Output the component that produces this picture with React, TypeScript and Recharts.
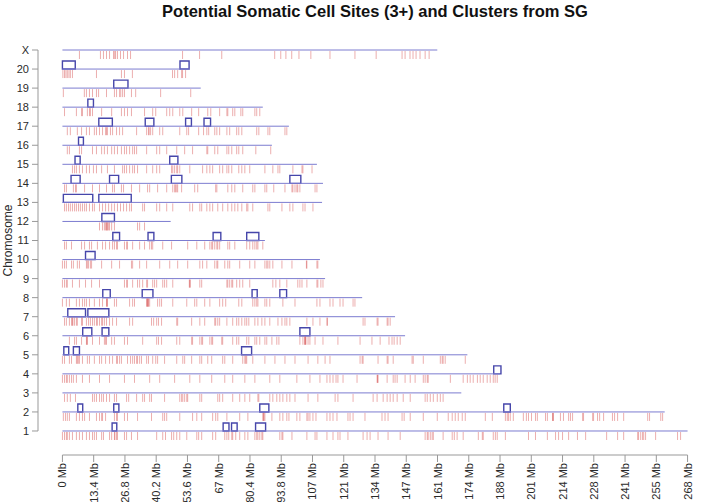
import React from 'react';
import {
  ScatterChart,
  Scatter,
  XAxis,
  YAxis,
  ReferenceLine,
  ReferenceArea,
} from 'recharts';

// chromosome rows, bottom (1) to top (X)
const chromNames = ['1', '2', '3', '4', '5', '6', '7', '8', '9', '10', '11', '12', '13', '14', '15', '16', '17', '18', '19', '20', 'X'];
const chromLengths = [268, 258.2, 171, 187.5, 173.6, 146.9, 142.6, 128.5, 112.6, 110.4, 86.8, 46.4, 111.3, 111.7, 109.1, 89.8, 97.1, 85.9, 59.3, 54.6, 160.7];

// x axis ticks (Mb)
const xTicks = [0, 13.4, 26.8, 40.2, 53.6, 67, 80.4, 93.8, 107.2, 120.6, 134, 147.4, 160.8, 174.2, 187.6, 201, 214.4, 227.8, 241.2, 254.6, 268];
const xTickLabels = ['0 Mb', '13.4 Mb', '26.8 Mb', '40.2 Mb', '53.6 Mb', '67 Mb', '80.4 Mb', '93.8 Mb', '107 Mb', '121 Mb', '134 Mb', '147 Mb', '161 Mb', '174 Mb', '188 Mb', '201 Mb', '214 Mb', '228 Mb', '241 Mb', '255 Mb', '268 Mb'];

// site positions (Mb) per chromosome
const sites1 = [0, 0.9, 1.7, 2.1, 3.0, 4.3, 6.0, 7.3, 8.6, 10.3, 11.6, 12.9, 13.7, 14.6, 16.8, 17.6, 20.2, 21.1, 22.3, 22.5, 23.2, 23.6, 26.6, 27.5, 29.6, 32.2, 40.4, 43.0, 44.2, 46.8, 47.7, 49.0, 50.3, 53.3, 57.6, 58.4, 59.7, 64.4, 65.7, 69.6, 70.5, 71.3, 72.6, 73.0, 74.3, 76.0, 78.2, 79.5, 82.5, 83.3, 83.8, 84.6, 85.5, 85.9, 93.2, 94.1, 94.5, 98.4, 104.8, 108.3, 109.1, 113.4, 116.0, 118.1, 119.0, 122.4, 128.9, 130.6, 131.9, 135.3, 139.6, 144.8, 155.5, 156.4, 156.8, 157.7, 158.5, 159.0, 163.2, 167.1, 168.0, 169.2, 171.8, 178.3, 180.0, 180.4, 184.7, 185.6, 186.4, 189.9, 199.8, 202.8, 207.9, 211.4, 212.7, 214.4, 217.0, 220.8, 224.3, 233.3, 238.0, 240.6, 246.6, 247.0, 247.9, 248.7, 249.2, 250.0, 254.3, 263.7, 265.0];
const sites2 = [0.4, 1.3, 2.1, 3.0, 6.0, 7.3, 8.6, 9.5, 11.6, 14.6, 15.9, 16.8, 17.2, 18.5, 22.3, 23.2, 23.6, 26.6, 27.9, 32.2, 38.2, 43.0, 43.8, 44.7, 50.3, 55.8, 57.6, 59.7, 64.4, 65.7, 66.6, 70.5, 76.0, 79.5, 85.9, 86.2, 86.4, 86.8, 89.8, 93.2, 94.5, 96.2, 97.1, 100.5, 101.8, 104.8, 105.3, 106.1, 107.4, 108.7, 113.4, 114.7, 116.0, 117.7, 122.4, 123.3, 124.6, 129.7, 137.0, 138.3, 139.6, 145.6, 146.5, 149.1, 154.7, 160.7, 165.4, 167.1, 168.4, 169.7, 171.4, 172.7, 181.3, 184.3, 189.9, 190.7, 191.2, 192.0, 193.3, 197.6, 198.9, 199.8, 201.1, 202.8, 203.6, 207.1, 207.9, 210.1, 210.3, 210.5, 213.5, 214.8, 217.0, 217.8, 218.7, 223.0, 223.4, 227.3, 227.7, 229.4, 230.3, 232.0, 235.8, 236.7, 238.0, 240.6, 250.9, 251.7, 256.5, 257.3];
const sites3 = [0.9, 2.1, 3.4, 5.6, 12.9, 13.7, 14.6, 15.9, 16.8, 17.6, 18.9, 20.2, 22.3, 23.2, 27.5, 28.4, 31.8, 34.4, 35.2, 37.4, 38.2, 43.8, 50.3, 51.1, 51.6, 52.4, 53.3, 53.7, 58.9, 59.7, 66.6, 67.4, 68.7, 73.0, 76.0, 78.2, 80.3, 83.8, 84.2, 88.9, 90.2, 91.9, 93.2, 94.5, 96.2, 97.5, 99.7, 105.3, 109.5, 116.9, 118.1, 124.6, 133.2, 134.9, 137.5, 139.2, 140.5, 141.8, 143.5, 146.1, 149.1, 155.5, 156.4, 157.7, 159.0, 160.7, 162.0, 163.2];
const sites4 = [0, 0.9, 1.7, 2.1, 3.0, 3.9, 4.7, 6.0, 8.6, 11.6, 15.9, 20.2, 26.6, 30.9, 37.4, 41.7, 48.1, 54.6, 58.9, 64.0, 69.6, 73.0, 78.2, 82.5, 88.9, 93.2, 100.5, 106.1, 110.4, 113.4, 114.7, 116.0, 117.3, 118.1, 120.3, 126.3, 134.9, 135.1, 135.3, 139.2, 141.8, 142.6, 143.5, 146.9, 149.1, 151.2, 154.7, 155.5, 156.4, 156.8, 166.3, 171.8, 173.6, 174.8, 176.1, 177.9, 179.1, 180.4, 182.1, 183.4, 184.7, 185.5, 186.4];
const sites5 = [0, 0.9, 3.0, 3.9, 6.0, 6.4, 6.8, 7.3, 8.6, 10.7, 11.6, 13.7, 15.9, 16.8, 18.5, 20.2, 21.5, 23.2, 23.6, 24.5, 25.3, 27.9, 29.2, 30.1, 30.9, 31.8, 32.2, 33.1, 33.9, 36.1, 36.9, 38.7, 40.0, 40.8, 43.8, 49.0, 51.6, 52.4, 55.4, 58.9, 59.7, 62.3, 64.0, 68.7, 69.6, 73.0, 77.3, 78.2, 78.6, 79.0, 81.6, 86.8, 91.1, 95.4, 99.7, 105.3, 109.5, 112.6, 114.7, 127.6, 128.5, 128.9, 135.3, 139.2, 139.6, 141.8, 149.9, 150.4, 154.7, 162.0, 162.8, 163.2, 164.1, 172.7];
const sites6 = [3.0, 5.2, 6.0, 8.2, 10.3, 10.5, 10.7, 12.9, 15.9, 18.0, 18.5, 18.9, 21.1, 22.3, 26.6, 27.9, 34.4, 40.4, 41.2, 42.5, 49.0, 50.3, 55.4, 55.8, 58.9, 59.7, 60.1, 63.2, 64.0, 64.4, 68.3, 68.7, 73.0, 74.7, 75.6, 79.0, 79.9, 82.5, 83.3, 84.6, 86.8, 87.6, 89.8, 91.9, 92.8, 101.8, 103.1, 103.8, 104.0, 104.2, 104.4, 105.3, 106.1, 108.3, 111.7, 118.1, 127.6, 132.7, 136.2, 140.0, 141.3, 142.2, 143.5, 144.8];
const sites7 = [0.9, 1.7, 3.0, 3.9, 4.3, 4.5, 5.2, 6.0, 6.4, 8.2, 8.6, 10.3, 11.2, 12.0, 12.9, 13.7, 14.6, 15.0, 15.9, 16.8, 17.2, 18.0, 18.9, 20.2, 21.5, 23.2, 28.8, 30.1, 38.2, 39.1, 40.4, 41.2, 42.5, 49.0, 49.4, 55.4, 58.9, 61.0, 65.3, 65.7, 66.6, 67.4, 70.5, 73.0, 74.7, 75.6, 76.9, 78.2, 79.0, 79.9, 82.5, 83.8, 85.5, 86.8, 88.9, 92.4, 94.1, 95.4, 96.2, 97.5, 104.8, 107.4, 110.4, 113.4, 113.6, 128.9, 129.7, 134.9, 135.3, 139.2, 139.6, 140.5];
const sites8 = [0, 1.7, 3.0, 6.0, 7.3, 8.6, 9.5, 10.3, 11.6, 13.7, 15.9, 17.2, 18.9, 19.1, 19.3, 22.3, 23.2, 28.8, 30.1, 30.9, 36.1, 36.3, 36.5, 36.7, 36.9, 37.4, 40.8, 41.7, 42.5, 47.3, 53.3, 56.7, 57.6, 61.0, 63.2, 67.4, 68.7, 70.0, 75.6, 76.9, 81.6, 82.5, 83.3, 83.8, 86.8, 87.6, 88.9, 94.5, 99.7, 109.1, 110.4, 114.7, 116.0, 119.0, 120.3, 124.6, 125.4];
const sites9 = [0, 0.9, 1.7, 2.1, 4.3, 7.3, 9.9, 12.5, 15.9, 26.6, 27.5, 27.9, 30.1, 32.2, 33.1, 34.4, 36.1, 36.5, 38.7, 39.5, 40.4, 43.0, 43.8, 44.7, 47.3, 54.4, 54.6, 54.8, 58.9, 59.7, 70.5, 70.9, 71.7, 72.6, 73.0, 74.7, 76.0, 77.3, 80.3, 90.2, 91.5, 93.2, 96.2, 100.9, 101.8, 102.7, 104.8, 109.1, 109.5, 110.8, 111.7];
const sites10 = [0, 0.9, 1.7, 3.9, 4.7, 6.4, 7.3, 10.3, 10.7, 11.2, 12.0, 12.5, 16.8, 21.1, 24.5, 29.6, 30.1, 33.1, 36.1, 41.7, 46.0, 49.4, 53.7, 58.9, 60.1, 61.9, 65.3, 66.2, 66.6, 69.6, 70.9, 71.7, 76.0, 80.3, 82.5, 86.8, 87.6, 88.1, 88.9, 90.2, 94.1, 98.4, 104.6, 104.8, 109.1, 109.5];
const sites11 = [0.9, 1.7, 3.9, 8.2, 9.5, 11.6, 12.5, 15.0, 17.2, 18.5, 20.2, 21.5, 22.3, 23.2, 23.6, 26.6, 27.5, 27.9, 30.1, 33.1, 35.2, 37.4, 38.2, 38.7, 43.0, 46.8, 53.7, 57.6, 61.0, 63.2, 64.0, 64.4, 65.3, 66.2, 66.6, 67.4, 70.9, 71.7, 73.9, 79.0, 80.3, 81.6, 82.5, 83.3, 83.8, 85.9];
const sites12 = [15.9, 17.2, 18.0, 18.5, 18.9, 19.1, 19.3, 19.8, 20.2, 21.1, 22.3, 32.2, 33.1, 35.2];
const sites13 = [0.9, 1.7, 2.6, 3.4, 4.3, 5.2, 6.0, 6.9, 7.7, 8.6, 9.5, 10.3, 11.6, 12.9, 13.7, 15.9, 17.2, 18.5, 19.8, 21.1, 22.3, 23.6, 24.9, 26.2, 27.5, 28.8, 29.6, 34.4, 35.2, 40.4, 41.7, 44.7, 47.3, 54.6, 55.8, 58.9, 59.7, 61.9, 63.2, 64.4, 66.6, 68.7, 70.9, 72.6, 73.9, 75.2, 76.9, 79.0, 79.5, 81.6, 88.1, 88.9, 94.1, 97.5, 98.8, 103.1, 104.0, 107.4];
const sites14 = [0.9, 1.7, 4.7, 5.6, 6.0, 9.5, 12.9, 15.9, 18.9, 21.5, 22.3, 25.3, 26.2, 29.6, 33.1, 36.5, 37.4, 40.8, 44.7, 47.3, 48.1, 48.5, 49.0, 49.4, 51.1, 56.7, 58.0, 65.7, 66.2, 70.9, 72.6, 73.9, 77.3, 81.6, 82.5, 86.8, 87.6, 90.6, 95.4, 98.4, 98.8, 99.7, 100.5, 100.9, 101.8, 108.3, 109.1];
const sites15 = [4.3, 5.2, 6.0, 7.3, 8.6, 10.3, 11.6, 13.3, 14.6, 16.8, 19.3, 22.3, 25.8, 26.6, 27.5, 28.8, 30.1, 30.9, 32.2, 36.1, 38.7, 40.4, 41.7, 46.8, 47.3, 48.1, 49.0, 49.4, 50.3, 54.6, 60.1, 61.9, 63.2, 64.4, 67.4, 68.7, 70.5, 71.3, 72.6, 75.6, 76.9, 78.2, 80.3, 86.8, 90.2, 92.4, 93.2, 98.8, 102.7, 103.1, 107.0];
const sites16 = [2.1, 3.0, 7.3, 8.2, 12.9, 14.6, 16.8, 18.0, 19.3, 21.1, 22.3, 23.6, 25.3, 26.6, 27.5, 28.8, 30.1, 30.9, 31.8, 36.1, 40.4, 41.7, 44.7, 49.0, 52.4, 55.8, 61.9, 62.3, 65.3, 66.6, 70.5, 71.3, 72.6, 74.7, 75.6, 77.3, 82.9, 89.3];
const sites17 = [2.1, 3.4, 6.4, 8.2, 10.3, 11.6, 13.7, 14.6, 15.9, 17.2, 18.5, 18.9, 19.3, 20.6, 21.5, 23.2, 24.5, 25.8, 31.8, 36.1, 36.9, 37.2, 37.8, 38.7, 41.7, 43.0, 50.3, 53.3, 54.1, 58.4, 60.5, 61.9, 62.7, 65.3, 66.2, 67.4, 70.5, 71.7, 74.7, 75.6, 76.9, 83.3, 84.2, 88.1, 88.9, 95.4, 96.2];
const sites18 = [0.9, 6.0, 8.2, 8.6, 10.7, 11.6, 12.0, 12.9, 16.8, 21.1, 25.3, 26.6, 27.9, 29.6, 35.2, 38.7, 40.0, 44.7, 46.0, 47.3, 50.3, 51.6, 55.4, 58.4, 62.3, 63.6, 67.4, 70.5, 70.9, 73.0, 73.9, 76.5, 77.3, 82.5, 83.3, 84.6];
const sites19 = [0.4, 9.4, 10.3, 11.6, 12.9, 14.6, 15.5, 18.9, 22.3, 23.2, 24.5, 25.0, 25.8, 26.6, 29.6, 31.4, 42.1, 55.0];
const sites20 = [0.2, 0.9, 1.5, 2.1, 2.8, 3.4, 4.3, 14.6, 25.3, 26.6, 30.0, 47.2, 48.1, 49.4, 51.1, 51.5, 52.8];
const sitesX = [7.3, 16.3, 17.6, 18.9, 20.2, 21.9, 22.4, 22.8, 23.6, 24.9, 26.2, 27.9, 29.2, 51.5, 58.8, 68.3, 91.0, 93.6, 95.8, 98.3, 101.4, 106.5, 114.7, 125.4, 134.5, 145.6, 146.9, 149.0, 150.3, 151.6, 153.3, 155.5, 157.2];

// cluster ranges [start, end] (Mb) per chromosome
const clusters1 = [[21.3, 23.3], [68.9, 71.4], [72.5, 74.9], [82.8, 87.1]];
const clusters2 = [[6.6, 8.7], [22.0, 24.2], [84.6, 88.5], [189.2, 192.0]];
const clusters3: number[][] = [];
const clusters4 = [[184.9, 188.0]];
const clusters5 = [[0.6, 2.7], [4.7, 7.3], [76.8, 81.1]];
const clusters6 = [[8.7, 12.6], [17.0, 19.9], [101.8, 106.1]];
const clusters7 = [[2.3, 9.9], [10.9, 19.9]];
const clusters8 = [[17.3, 20.5], [34.2, 38.8], [81.3, 83.5], [93.2, 96.1]];
const clusters9: number[][] = [];
const clusters10 = [[9.9, 14.0]];
const clusters11 = [[21.6, 24.5], [36.7, 39.2], [64.6, 67.9], [79.0, 84.2]];
const clusters12 = [[16.9, 22.3]];
const clusters13 = [[0.4, 13.0], [15.6, 29.5]];
const clusters14 = [[3.7, 7.6], [20.2, 24.1], [46.7, 51.2], [97.5, 102.2]];
const clusters15 = [[5.4, 7.6], [46.0, 49.5]];
const clusters16 = [[6.9, 9.0]];
const clusters17 = [[15.6, 21.4], [35.5, 39.2], [52.8, 55.3], [60.7, 63.5]];
const clusters18 = [[10.9, 13.3]];
const clusters19 = [[22.0, 28.1]];
const clusters20 = [[0, 5.5], [50.4, 54.3]];
const clustersX: number[][] = [];

const chromSites = [sites1, sites2, sites3, sites4, sites5, sites6, sites7, sites8, sites9, sites10, sites11, sites12, sites13, sites14, sites15, sites16, sites17, sites18, sites19, sites20, sitesX];
const chromClusters = [clusters1, clusters2, clusters3, clusters4, clusters5, clusters6, clusters7, clusters8, clusters9, clusters10, clusters11, clusters12, clusters13, clusters14, clusters15, clusters16, clusters17, clusters18, clusters19, clusters20, clustersX];

const siteData = chromSites.flatMap((list, i) => list.map((x) => ({ x, y: i + 1 })));

const FONT = '"Liberation Sans", Arial, Helvetica, sans-serif';
const X_MIN = -10.47;
const X_MAX = 278.47;
const Y_MIN = -0.26;
const Y_MAX = 22.26;
const BOX_H = 0.42;

const SiteTick = (props: any) => {
  const { cx, cy } = props;
  return (
    <line x1={cx} x2={cx} y1={cy + 1} y2={cy + 9} stroke="#cc2a2a" strokeOpacity={0.38} strokeWidth={1} />
  );
};

const XTick = (props: any) => {
  const { x, y, index } = props;
  return (
    <text
      x={x}
      y={y}
      transform={`rotate(-90 ${x} ${y})`}
      textAnchor="end"
      dominantBaseline="central"
      fontSize={11}
      fontFamily={FONT}
      fill="#2a2a2a"
    >
      {xTickLabels[index]}
    </text>
  );
};

const App: React.FC = () => {
  return (
    <div style={{ position: 'absolute', left: 0, top: 0, width: 716, height: 502, background: '#fff', fontFamily: FONT }}>
      <div
        style={{
          position: 'absolute',
          top: 2,
          left: 38,
          width: 674,
          textAlign: 'center',
          fontWeight: 'bold',
          fontSize: 16.5,
          color: '#111',
        }}
      >
        Potential Somatic Cell Sites (3+) and Clusters from SG
      </div>
      <ScatterChart width={716} height={502} margin={{ top: 26, right: 4, left: 0, bottom: 0 }}>
        <XAxis
          type="number"
          dataKey="x"
          domain={[X_MIN, X_MAX]}
          ticks={xTicks}
          interval={0}
          axisLine={false}
          tickLine={{ stroke: '#999' }}
          tickSize={7}
          tickMargin={1}
          height={47}
          tick={<XTick />}
          allowDataOverflow
        />
        <YAxis
          type="number"
          dataKey="y"
          domain={[Y_MIN, Y_MAX]}
          ticks={chromNames.map((_, i) => i + 1)}
          interval={0}
          axisLine={false}
          tickLine={{ stroke: '#999' }}
          tickSize={6}
          tickMargin={3}
          width={38}
          tickFormatter={(v: number) => chromNames[v - 1]}
          tick={{ fontSize: 11, fill: '#2a2a2a', fontFamily: FONT }}
          allowDataOverflow
          label={{
            content: (p: any) => {
              const vb = p.viewBox || { x: 0, y: 26, width: 38, height: 429 };
              const cy = vb.y + vb.height / 2;
              return (
                <text
                  x={8}
                  y={cy}
                  transform={`rotate(-90 8 ${cy})`}
                  textAnchor="middle"
                  dominantBaseline="central"
                  fontSize={12}
                  fontFamily={FONT}
                  fill="#2a2a2a"
                >
                  Chromosome
                </text>
              );
            },
          }}
        />
        {/* axis lines drawn only across the tick range, like base R */}
        <ReferenceLine
          segment={[{ x: X_MIN, y: 1 }, { x: X_MIN, y: chromNames.length }]}
          stroke="#999"
          ifOverflow="visible"
        />
        <ReferenceLine
          segment={[{ x: xTicks[0], y: Y_MIN }, { x: xTicks[xTicks.length - 1], y: Y_MIN }]}
          stroke="#999"
          ifOverflow="visible"
        />
        {chromLengths.map((len, i) => (
          <ReferenceLine
            key={`chr-${i}`}
            segment={[{ x: 0, y: i + 1 }, { x: len, y: i + 1 }]}
            stroke="#7c7cd0"
            strokeWidth={1}
            ifOverflow="visible"
          />
        ))}
        <Scatter data={siteData} shape={<SiteTick />} isAnimationActive={false} />
        {chromClusters.map((list, i) =>
          list.map((c, j) => (
            <ReferenceArea
              key={`cl-${i}-${j}`}
              x1={c[0]}
              x2={c[1]}
              y1={i + 1}
              y2={i + 1 + BOX_H}
              fill="#fff"
              fillOpacity={0}
              stroke="#4646aa"
              strokeWidth={1.4}
              ifOverflow="visible"
            />
          ))
        )}
      </ScatterChart>
    </div>
  );
};

export default App;
